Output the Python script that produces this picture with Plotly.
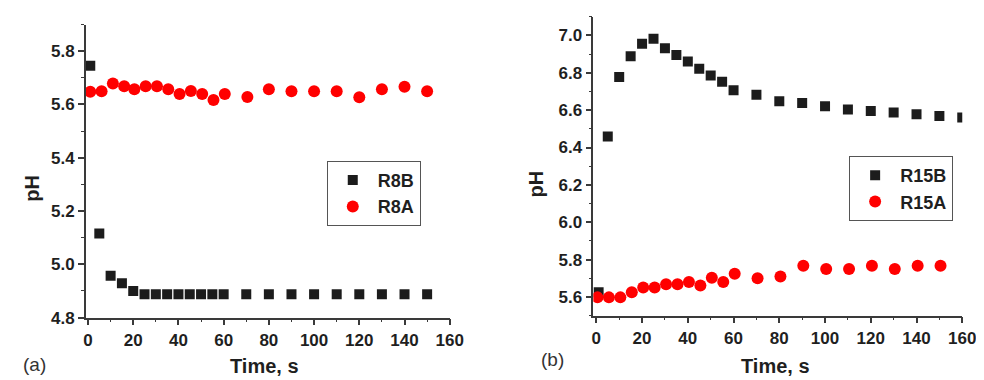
import plotly.graph_objects as go

# ---- data ----
t_r8b = [1, 5, 10, 15, 20, 25, 30, 35, 40, 45, 50, 55, 60, 70, 80, 90, 100, 110, 120, 130, 140, 150]
ph_r8b = [5.745, 5.116, 4.957, 4.929, 4.900, 4.888, 4.888, 4.888, 4.888, 4.888, 4.888, 4.888, 4.888,
          4.888, 4.888, 4.888, 4.888, 4.888, 4.888, 4.888, 4.888, 4.888]

t_r8a = [1, 6, 11, 16, 20.5, 25.5, 30.5, 35.5, 40.5, 45.5, 50.5, 55.5, 60.5, 70.5, 80, 90, 100, 110, 120, 130, 140, 150]
ph_r8a = [5.648, 5.650, 5.679, 5.668, 5.657, 5.668, 5.668, 5.657, 5.639, 5.651, 5.639, 5.617, 5.639,
          5.628, 5.657, 5.650, 5.650, 5.650, 5.627, 5.657, 5.667, 5.650]

t_r15b = [1, 5, 10, 15, 20, 25, 30, 35, 40, 45, 50, 55, 60, 70, 80, 90, 100, 110, 120, 130, 140, 150, 160]
ph_r15b = [5.625, 6.459, 6.777, 6.888, 6.956, 6.982, 6.932, 6.895, 6.860, 6.822, 6.786, 6.752, 6.707,
           6.683, 6.648, 6.639, 6.621, 6.604, 6.595, 6.587, 6.578, 6.569, 6.561]

t_r15a = [0.5, 5.5, 10.5, 15.5, 20.5, 25.5, 30.5, 35.5, 40.5, 45.5, 50.5, 55.5, 60.5, 70.5, 80.5, 90.5,
          100.5, 110.5, 120.5, 130.5, 140.5, 150.5]
ph_r15a = [5.598, 5.598, 5.598, 5.626, 5.651, 5.651, 5.668, 5.668, 5.680, 5.662, 5.703, 5.680, 5.724,
           5.701, 5.710, 5.767, 5.750, 5.750, 5.767, 5.750, 5.767, 5.767]

FONT = "Liberation Sans, Arial, sans-serif"
TXT = "#1f1f1f"
AX = "#3a3a3a"
BLACK = "#1c1c1c"
RED = "#ff0000"

W, H = 984, 380

def px_x(p):
    return p / W

def px_y(p):
    return 1 - p / H

fig = go.Figure()

fig.add_trace(go.Scatter(x=t_r8b, y=ph_r8b, mode="markers", name="R8B",
                         marker=dict(symbol="square", size=10, color=BLACK),
                         xaxis="x", yaxis="y", legend="legend"))
fig.add_trace(go.Scatter(x=t_r8a, y=ph_r8a, mode="markers", name="R8A",
                         marker=dict(symbol="circle", size=12, color=RED),
                         xaxis="x", yaxis="y", legend="legend"))
fig.add_trace(go.Scatter(x=t_r15b, y=ph_r15b, mode="markers", name="R15B",
                         marker=dict(symbol="square", size=10, color=BLACK),
                         xaxis="x2", yaxis="y2", legend="legend2"))
fig.add_trace(go.Scatter(x=t_r15a, y=ph_r15a, mode="markers", name="R15A",
                         marker=dict(symbol="circle", size=12, color=RED),
                         xaxis="x2", yaxis="y2", legend="legend2"))

tickfont = dict(family=FONT, size=17, color=TXT, weight="bold")

def xax(domain, rng, anchor):
    return dict(domain=domain, range=rng, anchor=anchor, showgrid=False, zeroline=False,
                showline=True, linecolor=AX, linewidth=1.5, ticks="outside", ticklen=6,
                tickwidth=1.5, tickcolor=AX, tick0=0, dtick=20, tickfont=tickfont,
                minor=dict(ticks="outside", ticklen=3, tickwidth=1.2, tickcolor=AX, dtick=10, showgrid=False))

def yax(domain, rng, anchor, dtick):
    return dict(domain=domain, range=rng, anchor=anchor, showgrid=False, zeroline=False,
                showline=True, linecolor=AX, linewidth=1.5, ticks="outside", ticklen=6,
                tickwidth=1.5, tickcolor=AX, dtick=dtick, tickformat=".1f", tickfont=tickfont,
                minor=dict(ticks="outside", ticklen=3, tickwidth=1.2, tickcolor=AX, dtick=0.1, showgrid=False))

legend_common = dict(bgcolor="white", bordercolor="#555555", borderwidth=1,
                     font=dict(family=FONT, size=18, color=TXT, weight="bold"),
                     xanchor="left", yanchor="top", itemwidth=40, tracegroupgap=0)

fig.update_layout(
    width=W, height=H,
    margin=dict(l=0, r=0, t=0, b=0),
    paper_bgcolor="white", plot_bgcolor="white",
    xaxis=xax([px_x(77), px_x(447)], [-1, 160], "y"),
    yaxis=yax([px_y(318), px_y(17)], [4.8, 5.9], "x", 0.2),
    xaxis2=xax([px_x(593), px_x(968)], [-1.3, 160], "y2"),
    yaxis2=yax([px_y(316), px_y(9)], [5.5, 7.1], "x2", 0.2),
    legend=dict(x=px_x(322), y=px_y(157), **legend_common),
    legend2=dict(x=px_x(853), y=px_y(152), **legend_common),
    showlegend=True,
)

title_font = dict(family=FONT, size=20, color=TXT, weight="bold")
annots = [
    dict(text="Time, s", x=px_x(259), y=px_y(368), font=title_font),
    dict(text="Time, s", x=px_x(778), y=px_y(368), font=title_font),
    dict(text="pH", x=px_x(23), y=px_y(185), font=title_font, textangle=-90),
    dict(text="pH", x=px_x(535), y=px_y(181), font=title_font, textangle=-90),
    dict(text="(a)", x=px_x(25), y=px_y(366), font=dict(family=FONT, size=19, color="#333333")),
    dict(text="(b)", x=px_x(551), y=px_y(361), font=dict(family=FONT, size=19, color="#333333")),
]
for a in annots:
    fig.add_annotation(xref="paper", yref="paper", showarrow=False,
                       xanchor="center", yanchor="middle", **a)

fig.write_html("out.html")
